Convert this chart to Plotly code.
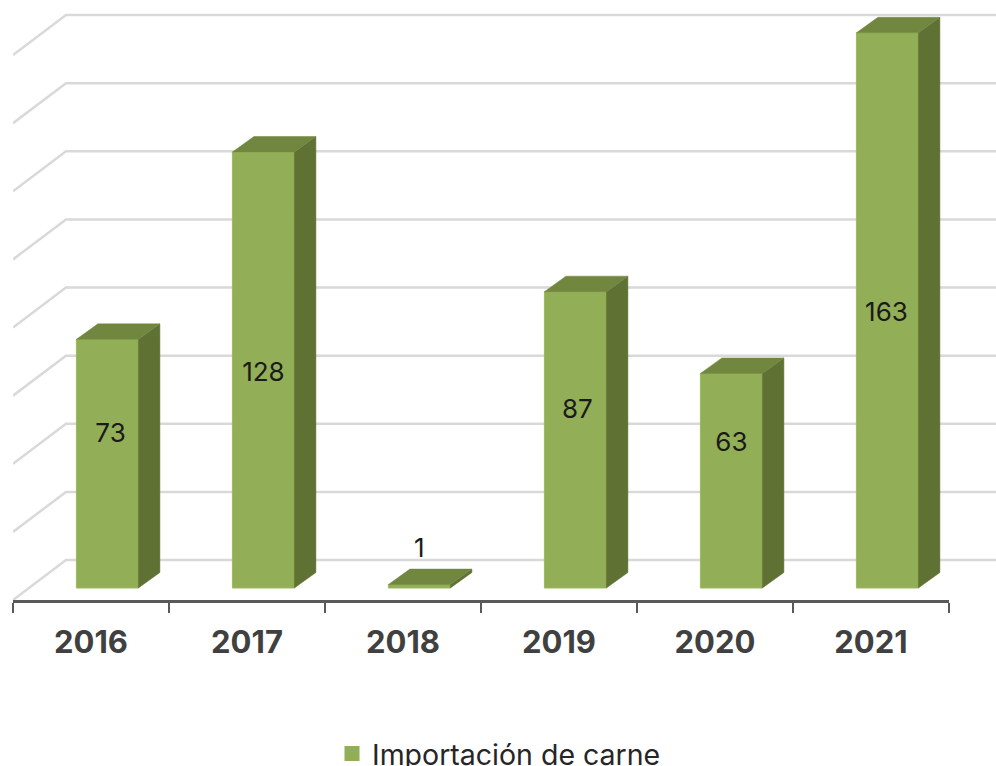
import plotly.graph_objects as go

# Data
years = ["2016", "2017", "2018", "2019", "2020", "2021"]
values = [73, 128, 1, 87, 63, 163]
grid_ticks = [0, 20, 40, 60, 80, 100, 120, 140, 160]
series_name = "Importación de carne"

# Label placement (axis units)
label_x_shift = [0.02, 0.0, 0.0, 0.013, 0.0, -0.006]
label_y = [48.2, 66.1, 14.5, 55.2, 45.7, 83.7]

# Geometry in pixels, converted to axis units
W, H = 996, 766
L, R_EDGE, BASE = 13, 949, 600
px_x = (R_EDGE - L) / 6
px_y = 3.406
wall_dx, wall_dy = 53 / px_x, 40 / px_y
bar_w = 62 / px_x
shift_x, floor_y = 16.4 / px_x, 12 / px_y
dep_x, dep_y = 21.5 / px_x, 15.5 / px_y
x_right_extent = -0.5 + (W - L) / px_x
bars_domain = [0, (R_EDGE - L) / (W - L)]
FONT = "Inter"

FRONT, SIDE, TOP = "#92AE56", "#5F7133", "#71873F"
fig = go.Figure()

# Walls: gridlines go from the front-left edge to the back, then across
for t in grid_ticks:
    fig.add_trace(go.Scatter(
        x=[-0.5, -0.5 + wall_dx, x_right_extent], y=[t, t + wall_dy, t + wall_dy],
        mode="lines", line=dict(color="#D9D9D9", width=2.5), cliponaxis=False,
        hoverinfo="skip", showlegend=False, xaxis="x", yaxis="y"))

# Bars (front faces)
fig.add_trace(go.Bar(
    x=years, y=values, base=[floor_y] * len(values), width=bar_w,
    offset=shift_x - bar_w / 2, marker=dict(color=FRONT, line=dict(color="#9BBB59", width=1)),
    cliponaxis=False, showlegend=False, xaxis="x2", yaxis="y2"))

# Side and top faces
for i, v in enumerate(values):
    l = i + shift_x - bar_w / 2
    r = i + shift_x + bar_w / 2
    top = floor_y + v
    fig.add_trace(go.Scatter(
        x=[r, r + dep_x, r + dep_x, r, r], y=[floor_y, floor_y + dep_y, top + dep_y, top, floor_y],
        mode="lines", fill="toself", fillcolor=SIDE, line=dict(color=SIDE, width=0.5),
        cliponaxis=False, hoverinfo="skip", showlegend=False, xaxis="x3", yaxis="y3"))
    fig.add_trace(go.Scatter(
        x=[l, l + dep_x, r + dep_x, r, l], y=[top, top + dep_y, top + dep_y, top, top],
        mode="lines", fill="toself", fillcolor=TOP, line=dict(color=TOP, width=0.5),
        cliponaxis=False, hoverinfo="skip", showlegend=False, xaxis="x3", yaxis="y3"))

# Value labels
fig.add_trace(go.Scatter(
    x=[i + shift_x + s for i, s in enumerate(label_x_shift)], y=label_y,
    mode="text", text=[str(v) for v in values], textposition="middle center",
    textfont=dict(family=FONT, size=26, color="#1A1A1A"),
    cliponaxis=False, hoverinfo="skip", showlegend=False, xaxis="x3", yaxis="y3"))

# Legend entry
fig.add_trace(go.Scatter(
    x=[None], y=[None], mode="markers", name=series_name,
    marker=dict(symbol="square", size=15, color=FRONT), xaxis="x3", yaxis="y3"))

y_range = [0, BASE / px_y]
x_range = [-0.5, 5.5]
hidden = dict(visible=False, fixedrange=True)
fig.update_layout(
    width=W, height=H, paper_bgcolor="white", plot_bgcolor="rgba(0,0,0,0)",
    margin=dict(l=L, r=0, t=0, b=H - BASE, autoexpand=False),
    xaxis=dict(range=[-0.5, x_right_extent], **hidden),
    yaxis=dict(range=y_range, **hidden),
    xaxis2=dict(type="category", categoryorder="array", categoryarray=years,
                range=x_range, domain=bars_domain, anchor="y2", showgrid=False,
                showline=True, linecolor="#595959", linewidth=3,
                ticks="outside", tickson="boundaries", ticklen=10, tickwidth=2,
                tickcolor="#595959", zeroline=False, fixedrange=True,
                ticklabelstandoff=13,
                tickfont=dict(family=FONT, size=31, color="#404040", weight="bold")),
    yaxis2=dict(range=y_range, anchor="x2", **hidden),
    xaxis3=dict(range=x_range, overlaying="x2", anchor="y3", **hidden),
    yaxis3=dict(range=y_range, overlaying="y2", anchor="x3", **hidden),
    legend=dict(orientation="h", x=(332 - L) / (W - L), xanchor="left",
                y=(BASE - 754) / BASE, yanchor="middle", bgcolor="rgba(0,0,0,0)",
                font=dict(family=FONT, size=28.5, color="#262626")),
    showlegend=True,
)
fig.write_html("out.html", config={"displayModeBar": False},
               post_script="document.body.style.margin='0';")
